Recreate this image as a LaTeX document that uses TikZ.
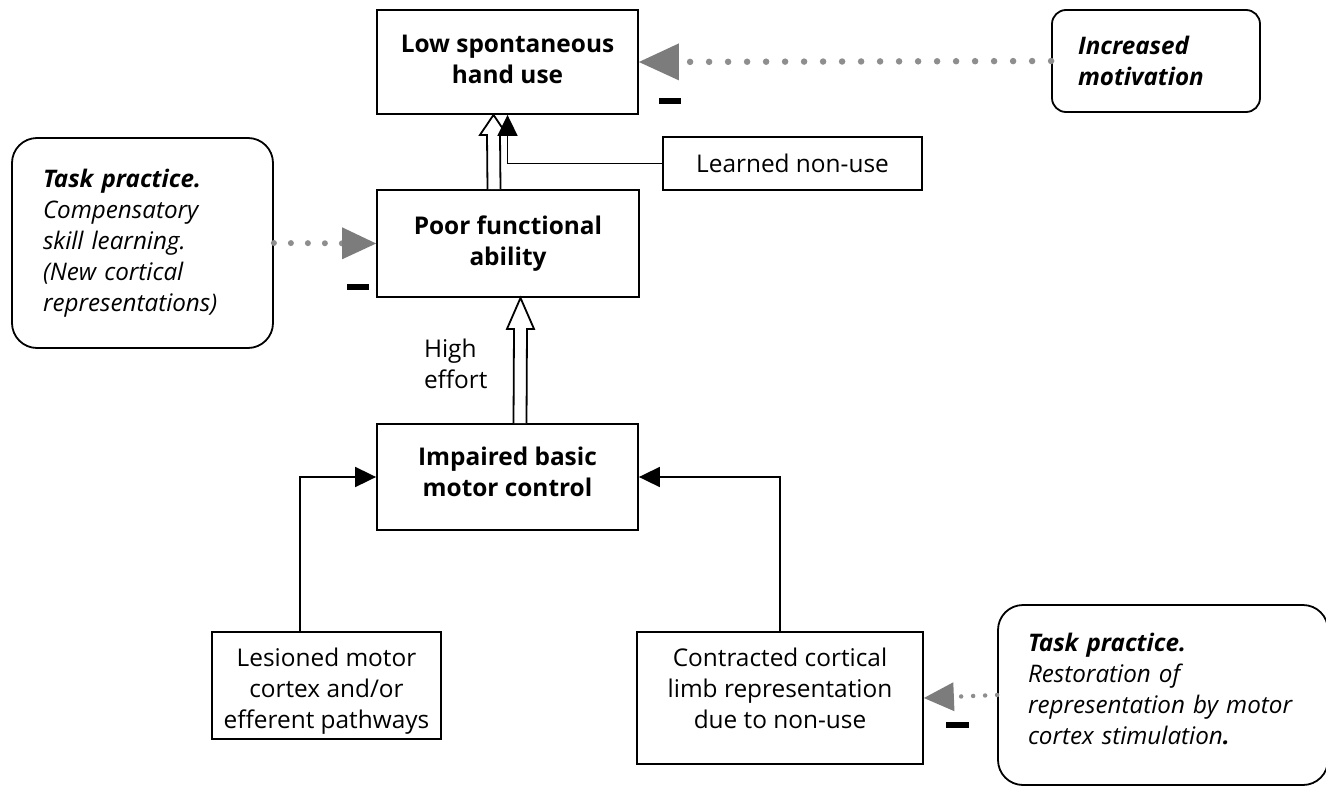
\documentclass[tikz,border=0pt]{standalone}
\usepackage{fontspec}
\setmainfont{Open Sans}
\usetikzlibrary{arrows.meta,calc}
\definecolor{dotgray}{HTML}{8E8E8E}
\definecolor{tipgray}{HTML}{7C7C7C}
\newcommand{\myhollow}[3]{%
  \draw[hollow] ($(#1)+(-6.5,0)$) -- ($(#2)+(-6.5,#3)$) -- ($(#2)+(-13.5,#3)$) -- (#2)
    -- ($(#2)+(13.5,#3)$) -- ($(#2)+(6.5,#3)$) -- ($(#1)+(6.5,0)$);}
\newcommand{\mydown}[1]{\rule[-#1pt]{0pt}{#1pt}}
\newcommand{\myup}[1]{\rule{0pt}{#1pt}}
\tikzset{
  base/.style={font=\fontsize{24.4}{31}\selectfont},
  box/.style={base, draw, line width=1.8pt, align=center, inner sep=0pt},
  bbox/.style={box, font=\fontsize{24.4}{31}\selectfont\bfseries},
  ibox/.style={base, draw, line width=1.8pt, align=left, font=\fontsize{24.2}{31}\selectfont\itshape},
  blk/.style={line width=1.8pt, -{Triangle[length=21pt,width=20pt]}},
  hollow/.style={line width=1.8pt, fill=white, line join=miter},
  dotsA/.style={draw=dotgray, line width=6.5pt, line cap=round, dash pattern=on 0pt off 19pt,
    -{Triangle[length=40pt,width=37pt,line width=0pt,color=tipgray]}},
  dotsB/.style={draw=dotgray, line width=6pt, line cap=round, dash pattern=on 0pt off 17pt,
    -{Triangle[length=34pt,width=32pt,line width=0pt,color=tipgray]}},
  dotsC/.style={draw=dotgray, line width=4.5pt, line cap=round, dash pattern=on 0pt off 12pt,
    -{Triangle[length=30pt,width=29pt,line width=0pt,color=tipgray]}},
}
\begin{document}
\begin{tikzpicture}[x=1pt,y=-1pt]
\useasboundingbox (0,0) rectangle (1326,787);
% main boxes
\node[bbox, minimum width=261, minimum height=104] (low) at (507.5,62) {Low spontaneous\\hand use\mydown{6}};
\node[bbox, minimum width=262, minimum height=107] (poor) at (508,243.5) {Poor functional\\ability};
\node[bbox, minimum width=261, minimum height=106] (impaired) at (507.5,477) {Impaired basic\\motor control\mydown{10}};
\node[box, minimum width=259, minimum height=53] (learned) at (792.5,163.5) {Learned non-use};
\node[box, minimum width=229, minimum height=107] (lesioned) at (326.5,685.5) {\myup{30}Lesioned motor\\cortex and/or\\efferent pathways};
\node[box, minimum width=286, minimum height=132] (contracted) at (780,698) {Contracted cortical\\limb representation\\due to non-use\mydown{20}};
% intervention boxes
\node[ibox, rounded corners=14, inner xsep=26, inner ysep=0pt, text width=156, minimum height=102] (motiv) at (1156,61) {\textbf{Increased}\\\textbf{motivation}};
\node[ibox, rounded corners=25, inner xsep=31, inner ysep=0pt, text width=199, minimum height=210] (task1) at (142.5,243) {\textbf{Task practice.}\\Compensatory\\skill learning.\\(New cortical\\representations)};
\node[ibox, rounded corners=25, inner xsep=30, inner ysep=0pt, text width=270, minimum height=180] (task2) at (1163,695) {\textbf{Task practice.}\\Restoration of\\representation by motor\\cortex stimulation\textbf{.}\mydown{12}};
% hollow arrows
\coordinate (h1b) at ($(poor.north)+(-14,0)$);
\coordinate (h1t) at ($(low.south)+(-14,0)$);
\coordinate (h2b) at ($(impaired.north)+(12.5,0)$);
\coordinate (h2t) at ($(poor.south)+(12.5,0)$);
\myhollow{h1b}{h1t}{20}
\myhollow{h2b}{h2t}{31}
% black arrows
\draw[blk] (learned.west) -| (low.south);
\coordinate (lesup) at ($(lesioned.north)+(-26.5,0)$);
\draw[blk] (lesup) |- (impaired.west);
\draw[blk] (contracted.north) |- (impaired.east);
% label
\node[base, align=left, anchor=east, inner sep=0pt] (effort) at ($(poor.south)!0.5!(impaired.north)+(-20,3)$) {High\\effort};
% dotted inhibitory arrows
\draw[dotsA] (motiv.west) -- (low.east);
\draw[dotsB] (task1.east) -- (poor.west);
\draw[dotsC] (task2.west) -- (contracted.east);
% minus signs
\fill ($(low.south east)+(20,-17)$) rectangle +(22,6);
\fill ($(poor.south west)+(-29,-14)$) rectangle +(22,6);
\fill ($(contracted.east)+(22,24)$) rectangle +(23,6);
\end{tikzpicture}
\end{document}
